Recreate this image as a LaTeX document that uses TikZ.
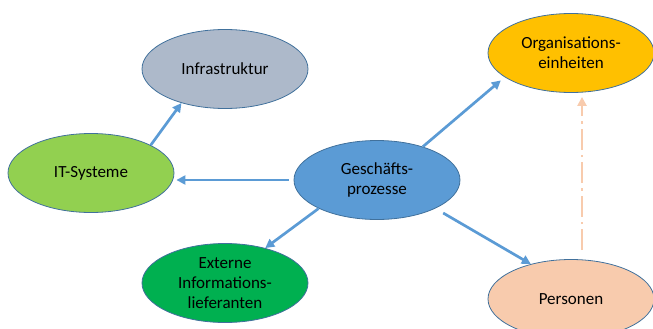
\documentclass[tikz,border=0pt]{standalone}
\usepackage{fontspec}
\setmainfont{Carlito}
\usetikzlibrary{shapes.geometric,arrows.meta}
\definecolor{infraC}{HTML}{ADB9CA}
\definecolor{itC}{HTML}{92D050}
\definecolor{gpC}{HTML}{5B9BD5}
\definecolor{extC}{HTML}{00B050}
\definecolor{orgC}{HTML}{FFC000}
\definecolor{persC}{HTML}{F8CBAD}
\definecolor{edgeC}{HTML}{41719C}
\definecolor{arrC}{HTML}{5B9BD5}
\begin{document}
\begin{tikzpicture}[x=1pt,y=-1pt,
  bubble/.style={ellipse,draw=edgeC,line width=0.8pt,minimum width=166pt,minimum height=79pt,inner sep=0pt,align=center,font=\fontsize{17}{20}\selectfont,text=black},
  flow/.style={draw=arrC,line width=2.7pt,-{Triangle[length=9pt,width=9pt]}},
  link/.style={draw=persC,line width=2.7pt,dash pattern=on 21pt off 5pt on 2.5pt off 5pt,-{Triangle[length=9pt,width=9pt]}}]
\useasboundingbox (0,0) rectangle (653,329);
\node[bubble,fill=infraC] (infra) at (225,69) {Infrastruktur};
\node[bubble,fill=itC] (it) at (91,173) {IT-Systeme};
\node[bubble,fill=gpC] (gp) at (377,180) {Geschäfts-\\prozesse};
\node[bubble,fill=extC] (ext) at (225,283) {Externe\\Informations-\\lieferanten};
\node[bubble,fill=orgC] (org) at (571,53) {Organisations-\\einheiten};
\node[bubble,fill=persC] (pers) at (571,299) {Personen};
\draw[flow] (it.25) -- (infra.218);
\draw[flow,shorten <=5pt,shorten >=2pt] (gp.west) -- (gp.west -| it.east);
\draw[flow] (gp.206) -- (ext.41);
\draw[flow,shorten >=5pt] (gp.36) -- (org.200);
\draw[flow,shorten <=9pt] (gp.-26) -- (pers.139);
\coordinate (d1) at ([xshift=11pt]pers.north);
\draw[link,shorten <=9pt,shorten >=4pt] (d1) -- (d1 |- org.south);
\end{tikzpicture}
\end{document}
